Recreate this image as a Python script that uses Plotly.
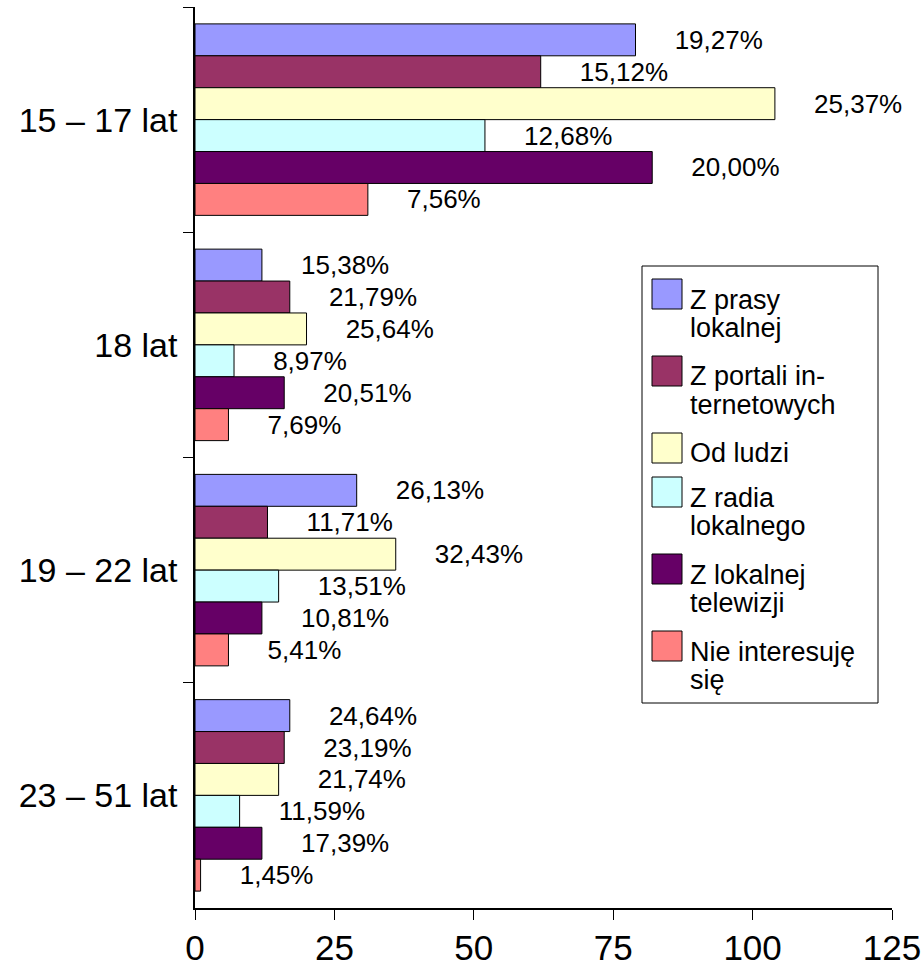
import plotly.graph_objects as go

# ---------------- data ----------------
categories = ["15 – 17 lat", "18 lat", "19 – 22 lat", "23 – 51 lat"]

series_names = ["Z prasy lokalnej", "Z portali internetowych", "Od ludzi",
                "Z radia lokalnego", "Z lokalnej telewizji", "Nie interesuję się"]
legend_lines = [["Z prasy", "lokalnej"], ["Z portali in-", "ternetowych"], ["Od ludzi"],
                ["Z radia", "lokalnego"], ["Z lokalnej", "telewizji"], ["Nie interesuję", "się"]]
colors = ["#9999FF", "#993366", "#FFFFCC", "#CCFFFF", "#660066", "#FF8080"]

z_prasy = [79, 12, 29, 17]
z_portali = [62, 17, 13, 16]
od_ludzi = [104, 20, 36, 15]
z_radia = [52, 7, 15, 8]
z_telewizji = [82, 16, 12, 12]
nie_interesuje = [31, 6, 6, 1]

pct_prasy = ["19,27%", "15,38%", "26,13%", "24,64%"]
pct_portali = ["15,12%", "21,79%", "11,71%", "23,19%"]
pct_ludzi = ["25,37%", "25,64%", "32,43%", "21,74%"]
pct_radia = ["12,68%", "8,97%", "13,51%", "11,59%"]
pct_tv = ["20,00%", "20,51%", "10,81%", "17,39%"]
pct_nie = ["7,56%", "7,69%", "5,41%", "1,45%"]

x_ticks = [0, 25, 50, 75, 100, 125]

values = [z_prasy, z_portali, od_ludzi, z_radia, z_telewizji, nie_interesuje]
labels = [pct_prasy, pct_portali, pct_ludzi, pct_radia, pct_tv, pct_nie]

FONT = "Liberation Sans, Arial, sans-serif"
W, H = 922, 966
ML, MR, MT, MB = 195, 30, 7, 58
PW, PH = W - ML - MR, H - MT - MB

pad = '<span style="font-size:26px">' + "\u00a0" * 5 + "</span>"

fig = go.Figure()
for name, vals, labs, col in zip(series_names, values, labels, colors):
    fig.add_trace(go.Bar(
        name=name, y=categories, x=vals, orientation="h",
        marker=dict(color=col, line=dict(color="#000000", width=1)),
        text=[pad + l for l in labs], texttemplate="%{text}",
        textposition="outside", constraintext="none", cliponaxis=False,
        textfont=dict(family=FONT, size=26, color="#000000"),
        showlegend=False, hoverinfo="x+y+name",
    ))

# ---------- legend (drawn in layout space) ----------
def xp(px):
    return (px - ML) / PW

def yp(py):
    return (MT + PH - py) / PH

shapes = []
annotations = []
box = dict(x0=642, y0=266, x1=878, y1=703)
shapes.append(dict(type="rect", xref="paper", yref="paper",
                   x0=xp(box["x0"]), x1=xp(box["x1"]), y0=yp(box["y1"]), y1=yp(box["y0"]),
                   line=dict(color="#000000", width=1), fillcolor="#FFFFFF", layer="above"))
top = 279
for lines, col in zip(legend_lines, colors):
    shapes.append(dict(type="rect", xref="paper", yref="paper",
                       x0=xp(652), x1=xp(682), y0=yp(top + 30), y1=yp(top),
                       line=dict(color="#000000", width=1), fillcolor=col, layer="above"))
    for k, ln in enumerate(lines):
        baseline = top + 29.5 + 28 * k
        annotations.append(dict(text=ln, xref="paper", yref="paper",
                                x=xp(688), y=yp(baseline - 9), xanchor="left", yanchor="middle",
                                showarrow=False, font=dict(family=FONT, size=27, color="#000000")))
    top += 11 + 33 * len(lines)

fig.update_layout(
    template="none",
    width=W, height=H,
    margin=dict(l=ML, r=MR, t=MT, b=MB, pad=0, autoexpand=False),
    paper_bgcolor="#FFFFFF", plot_bgcolor="#FFFFFF",
    barmode="group", bargap=0.15, bargroupgap=0,
    showlegend=False,
    font=dict(family=FONT, color="#000000"),
    xaxis=dict(range=[0, 125], tickvals=x_ticks, ticktext=[str(t) for t in x_ticks],
               ticks="outside", ticklen=10, tickwidth=1, tickcolor="#000000",
               showline=True, linecolor="#000000", linewidth=1.5,
               showgrid=False, zeroline=False, automargin=False, ticklabelstandoff=-2,
               tickfont=dict(family=FONT, size=35, color="#000000")),
    yaxis=dict(type="category", categoryorder="array", categoryarray=categories,
               autorange="reversed", tickson="boundaries",
               ticks="outside", ticklen=10, tickwidth=1, tickcolor="#000000",
               showline=True, linecolor="#000000", linewidth=1.5,
               showgrid=False, zeroline=False, ticklabelstandoff=9, automargin=False,
               tickfont=dict(family=FONT, size=34, color="#000000")),
    shapes=shapes, annotations=annotations,
)

fig.write_html("out.html", config={"displayModeBar": False},
               post_script="document.body.style.margin='0px';")
